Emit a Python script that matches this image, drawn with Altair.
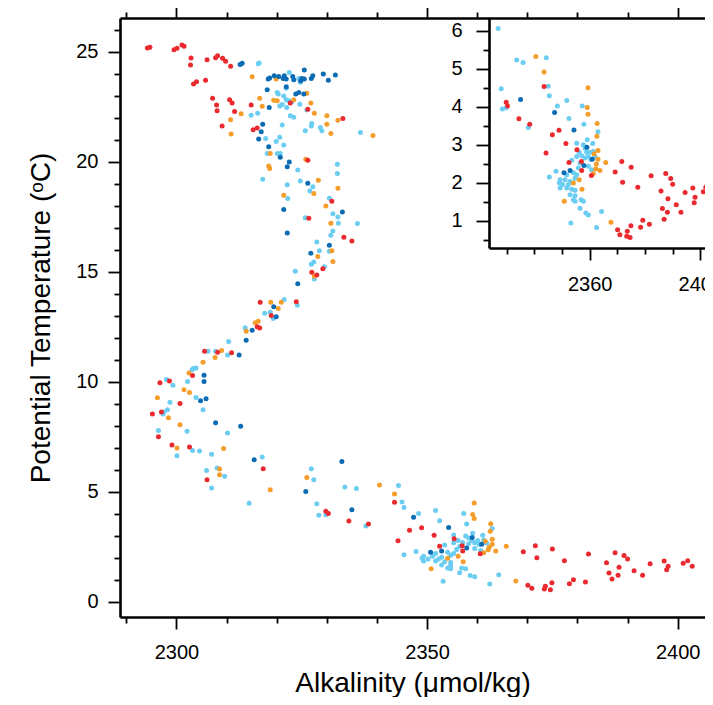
import altair as alt
import pandas as pd

FONT = "Liberation Sans"
GROUPS = ["red", "orange", "lightblue", "darkblue"]
COLORS = ["#ea2a2f", "#f59d2a", "#6ccdf2", "#0b6cb4"]

# ---- points shown only in the main panel (alkalinity, temperature) ----
upper_red = [(2294.2,25.18),(2294.7,25.21),(2299.5,25.1),(2300.1,25.17),(2301.1,25.32),(2301.5,25.26),(2302.9,24.73),(2302.8,24.41),(2306.1,24.65),(2307.8,24.74),(2308.2,24.83),(2309.2,24.71),(2309.8,24.58),(2310.8,24.35),(2303.4,23.54),(2304.0,23.65),(2305.8,23.72),(2307.2,22.9),(2310.6,22.83),(2311.1,22.68),(2308.0,22.59),(2308.1,22.33),(2311.6,22.3),(2309.1,21.64),(2314.9,22.59),(2315.3,21.46),(2316.1,21.54),(2322.7,22.68),(2326.2,22.4),(2333.2,21.98),(2326.2,20.08),(2331.0,18.21),(2326.4,17.44),(2333.4,16.58),(2335.0,16.41),(2329.2,15.15),(2327.0,14.99),(2328.0,14.86),(2316.7,13.63),(2323.9,13.65),(2318.9,13.02),(2316.1,12.51),(2316.6,12.45),(2305.6,11.4),(2308.2,11.35),(2311.0,11.33),(2303.2,10.29),(2298.6,10.05),(2296.7,9.96),(2300.7,9.02),(2297.0,8.64),(2295.2,8.55),(2296.4,7.51),(2299.1,7.14),(2302.6,7.04),(2317.3,6.06),(2306.1,5.56)]
upper_orange = [(2315.1,23.88),(2319.9,23.77),(2316.6,22.9),(2317.1,22.53),(2319.4,22.81),(2320.1,22.78),(2323.4,22.83),(2326.0,23.13),(2326.8,22.68),(2327.5,22.21),(2312.9,22.19),(2310.8,21.92),(2310.9,21.27),(2330.0,22.1),(2332.2,21.9),(2330.0,21.72),(2330.8,21.3),(2339.2,21.2),(2318.7,20.39),(2318.4,19.82),(2318.6,19.7),(2325.8,20.13),(2328.3,19.17),(2327.4,18.57),(2332.2,18.81),(2321.4,18.49),(2329.8,18.0),(2330.8,17.21),(2331.0,15.97),(2328.2,15.7),(2331.2,15.48),(2327.5,14.81),(2318.8,13.63),(2320.9,13.63),(2320.3,13.34),(2315.7,12.69),(2316.3,12.76),(2313.9,12.31),(2309.0,11.43),(2307.7,11.11),(2305.3,10.9),(2302.5,10.41),(2301.5,9.65),(2302.6,9.52),(2296.2,9.28),(2298.4,8.38),(2300.7,8.06),(2300.1,7.0),(2309.4,6.98),(2308.6,6.04),(2308.6,5.78),(2318.7,5.1),(2326.0,5.66)]
upper_light = [(2316.3,24.47),(2316.5,24.5),(2322.5,24.07),(2320.1,23.16),(2320.3,23.09),(2321.9,23.35),(2321.4,23.0),(2321.9,22.83),(2322.4,22.78),(2322.8,22.71),(2324.6,22.63),(2320.6,22.55),(2322.0,22.48),(2321.1,22.61),(2323.0,22.74),(2324.4,23.8),(2324.7,23.62),(2326.0,22.36),(2322.7,22.1),(2323.4,22.03),(2321.1,21.68),(2314.9,22.13),(2316.2,22.22),(2327.0,21.75),(2326.9,21.64),(2325.7,21.42),(2328.7,21.57),(2329.0,21.42),(2317.8,21.07),(2319.9,20.93),(2320.6,21.12),(2321.4,20.77),(2336.7,21.34),(2318.1,20.39),(2320.1,20.39),(2320.7,20.39),(2324.2,19.64),(2332.1,19.9),(2332.1,19.48),(2324.7,19.14),(2327.2,18.88),(2317.2,19.22),(2322.1,18.96),(2326.6,18.68),(2330.5,18.35),(2322.2,18.34),(2331.2,17.65),(2332.2,17.5),(2325.7,17.47),(2332.3,17.21),(2336.1,17.2),(2331.2,16.86),(2330.8,16.67),(2328.0,16.36),(2328.5,15.97),(2330.5,15.94),(2327.4,15.45),(2326.9,15.35),(2329.5,15.24),(2323.7,15.03),(2327.5,14.68),(2321.5,13.75),(2324.1,13.49),(2317.6,13.13),(2318.7,13.17),(2319.3,12.89),(2313.7,12.46),(2310.4,11.84),(2306.3,11.4),(2307.8,11.4),(2310.2,11.23),(2303.1,10.56),(2303.4,10.62),(2303.9,10.64),(2298.0,10.11),(2299.3,9.85),(2302.2,10.02),(2303.9,9.3),(2298.7,9.08),(2305.3,8.74),(2298.2,8.74),(2297.5,8.64),(2297.3,8.55),(2296.4,7.79),(2302.1,7.76),(2310.2,7.68),(2303.2,6.89),(2304.6,6.86),(2300.1,6.65),(2307.0,6.71),(2317.1,6.59),(2306.0,5.98),(2308.1,6.09),(2309.6,5.71),(2307.0,5.18),(2314.5,4.49),(2327.4,5.56)]
upper_dark = [(2313.1,24.49),(2312.7,24.43),(2318.3,23.77),(2318.6,23.82),(2319.5,23.92),(2320.4,23.89),(2321.3,23.8),(2321.5,23.92),(2321.9,23.77),(2323.2,23.89),(2323.4,23.74),(2323.8,23.09),(2324.4,23.16),(2325.0,23.8),(2325.5,23.77),(2324.8,23.69),(2325.5,24.18),(2327.2,23.92),(2326.9,23.8),(2325.4,23.09),(2329.3,24.0),(2330.3,23.72),(2331.7,23.95),(2318.1,23.28),(2321.9,23.42),(2318.5,22.48),(2317.2,21.72),(2316.9,21.37),(2316.4,21.04),(2318.4,20.69),(2320.7,20.22),(2322.5,20.0),(2322.1,19.78),(2326.2,19.03),(2321.4,17.84),(2333.1,17.73),(2322.1,16.77),(2330.5,16.21),(2326.8,15.85),(2324.2,14.47),(2319.4,13.42),(2319.9,12.96),(2315.1,12.35),(2313.9,11.9),(2312.5,11.23),(2305.5,10.31),(2305.5,10.02),(2304.8,9.15),(2305.9,9.24),(2307.8,8.15),(2312.8,7.99),(2315.5,6.47),(2333.0,6.39),(2325.8,5.02)]

# ---- deep points: shown in the main panel and in the inset ----
deep_light = [(2326.9,6.06),(2333.6,5.23),(2335.9,5.16),(2344.3,5.29),(2345.0,4.54),(2328.0,4.47),(2345.4,4.29),(2328.4,3.94),(2329.8,3.97),(2348.3,4.02),(2351.7,4.16),(2357.3,4.02),(2352.5,3.69),(2337.8,3.45),(2357.9,3.54),(2363.0,3.34),(2355.3,3.04),(2359.1,3.13),(2361.1,3.03),(2357.7,3.0),(2358.3,2.91),(2356.2,2.80),(2358.9,2.80),(2360.1,2.80),(2361.3,2.82),(2355.3,2.69),(2357.1,2.71),(2358.3,2.65),(2359.5,2.69),(2360.4,2.61),(2361.9,2.68),(2353.5,2.59),(2356.5,2.52),(2355.9,2.39),(2359.5,2.43),(2360.7,2.34),(2347.8,2.30),(2351.7,2.21),(2354.1,2.26),(2355.3,2.21),(2345.4,2.15),(2349.3,2.08),(2351.1,2.08),(2352.9,2.03),(2354.7,2.12),(2349.0,1.99),(2350.2,1.95),(2352.3,1.95),(2349.3,1.86),(2351.7,1.86),(2353.5,1.83),(2354.7,1.80),(2352.9,1.68),(2354.7,1.66),(2354.1,1.55),(2354.7,1.51),(2356.9,1.55),(2357.7,1.51),(2356.5,1.33),(2358.6,1.20),(2359.5,1.15),(2364.3,1.24),(2362.5,0.82),(2353.2,0.94)]
deep_orange = [(2340.5,5.32),(2343.5,4.91),(2359.4,4.5),(2359.1,3.98),(2359.4,3.8),(2362.7,3.56),(2362.6,3.22),(2361.6,2.76),(2363.0,2.85),(2363.0,2.62),(2365.8,2.53),(2362.4,2.49),(2362.2,2.37),(2363.7,2.32),(2361.3,2.24),(2354.1,1.99),(2356.2,2.08),(2357.2,1.83),(2350.8,1.51),(2367.7,0.96)]
deep_red = [(2343.5,4.53),(2329.8,4.12),(2330.3,4.02),(2334.4,3.68),(2338.3,3.54),(2348.9,3.38),(2346.5,3.26),(2351.4,3.03),(2355.4,2.87),(2344.2,2.78),(2352.5,2.53),(2357.0,2.56),(2357.1,2.32),(2360.6,2.19),(2371.6,2.56),(2375.0,2.41),(2369.2,2.28),(2371.9,2.01),(2377.4,1.88),(2382.2,2.18),(2387.5,2.24),(2389.3,2.11),(2390.0,1.96),(2385.8,1.78),(2388.3,1.58),(2391.3,1.42),(2393.0,1.22),(2394.5,1.74),(2397.3,1.86),(2397.8,1.47),(2398.1,1.62),(2401.1,1.76),(2402.0,1.88),(2402.9,1.62),(2386.3,1.32),(2388.1,1.22),(2386.9,1.04),(2379.2,1.01),(2378.4,0.83),(2374.9,0.87),(2381.6,0.91),(2370.1,0.76),(2370.9,0.63),(2373.6,0.72),(2373.4,0.59),(2374.6,0.56)]
deep_dark = [(2335.0,4.19),(2347.3,3.85),(2354.3,3.39),(2359.0,2.93),(2360.9,2.62),(2357.9,2.45),(2350.7,2.26),(2352.9,2.32)]

# axis tick values
main_x_ticks = list(range(2290, 2411, 10))
main_y_ticks = list(range(0, 27))
inset_x_ticks = list(range(2330, 2401, 10))
inset_y_ticks = [0.5, 1, 1.5, 2, 2.5, 3, 3.5, 4, 4.5, 5, 5.5, 6]


def frame(groups):
    rows = []
    for g, pts in groups:
        for a, t in pts:
            rows.append({"alk": a, "temp": t, "group": g})
    return pd.DataFrame(rows)


upper_df = frame([("lightblue", upper_light), ("orange", upper_orange),
                  ("darkblue", upper_dark), ("red", upper_red)])
deep_df = frame([("lightblue", deep_light), ("orange", deep_orange),
                 ("darkblue", deep_dark), ("red", deep_red)])
main_df = pd.concat([upper_df, deep_df], ignore_index=True)

color = alt.Color("group:N", scale=alt.Scale(domain=GROUPS, range=COLORS), legend=None)

main_xs = alt.Scale(domain=[2288.73, 2405.45], nice=False, zero=False)
main_ys = alt.Scale(domain=[-0.682, 26.545], nice=False, zero=False)
inset_xs = alt.Scale(domain=[2323.58, 2401.7], range=[369, 585], nice=False, zero=False)
inset_ys = alt.Scale(domain=[0.282, 6.334], range=[230, 0], nice=False, zero=False)


def tsize(test, major, minor):
    return {"condition": {"test": test, "value": major}, "value": minor}


common = dict(domainColor="black", tickColor="black", labelColor="black",
              domainWidth=2.6, tickWidth=1.8, grid=False, labelOverlap=False,
              labelFlush=False, labelFont=FONT, labelFontSize=20,
              titleFont=FONT, titleFontSize=28, titleFontWeight="normal",
              titleColor="black")

x_bottom = alt.Axis(orient="bottom", values=main_x_ticks,
                    labelExpr="datum.value % 50 === 0 ? format(datum.value, 'd') : ''",
                    tickSize=tsize("datum.value % 50 === 0", 12, 6),
                    labelPadding=13, title="Alkalinity (μmol/kg)", titlePadding=7, **common)
x_top = alt.Axis(orient="top", values=main_x_ticks, labels=False, title=None,
                 tickSize=tsize("datum.value % 50 === 0", 11, 6), **common)
y_left = alt.Axis(orient="left", values=main_y_ticks,
                  labelExpr="datum.value % 5 === 0 ? format(datum.value, 'd') : ''",
                  tickSize=tsize("datum.value % 5 === 0", 12, 6),
                  labelPadding=10, title="Potential Temperature (ᵒC)", titlePadding=20, **common)
ix_axis = alt.Axis(orient="bottom", offset=-369, values=inset_x_ticks,
                   labelExpr="(datum.value === 2360 || datum.value === 2400) ? format(datum.value, 'd') : ''",
                   tickSize=tsize("datum.value === 2360 || datum.value === 2400", 12, 6),
                   labelPadding=14, title=None, **common)
iy_axis = alt.Axis(orient="left", offset=-369, values=inset_y_ticks,
                   labelExpr="datum.value % 1 === 0 ? format(datum.value, 'd') : ''",
                   tickSize=tsize("datum.value % 1 === 0", 13, 6),
                   labelPadding=14, title=None, **common)

main_pts = alt.Chart(main_df).mark_circle(size=25, opacity=1).encode(
    x=alt.X("alk:Q", scale=main_xs, axis=x_bottom),
    y=alt.Y("temp:Q", scale=main_ys, axis=y_left),
    color=color,
)
top_axis_layer = alt.Chart(main_df).mark_circle(size=25, opacity=0).encode(
    x=alt.X("alk:Q", scale=main_xs, axis=x_top),
    y=alt.Y("temp:Q", scale=main_ys, axis=None),
)
inset_pts = alt.Chart(deep_df).mark_circle(size=25, opacity=1, clip=True).encode(
    x=alt.X("alk:Q", scale=inset_xs, axis=ix_axis),
    y=alt.Y("temp:Q", scale=inset_ys, axis=iy_axis),
    color=color,
)

chart = alt.layer(main_pts, top_axis_layer, inset_pts).resolve_scale(
    x="independent", y="independent"
).properties(
    width=585, height=599,
    autosize=alt.AutoSizeParams(type="none"),
    padding={"left": 112, "top": 10, "right": 0, "bottom": 80},
).configure_view(stroke=None)

chart.save("out.html", embed_options={"renderer": "svg", "actions": False})
